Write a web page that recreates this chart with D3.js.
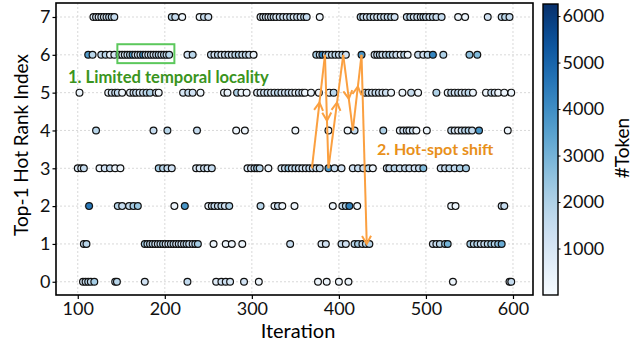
<!DOCTYPE html>
<html>
<head>
<meta charset="utf-8">
<script src="https://cdn.jsdelivr.net/npm/d3@7"></script>
<style>
  body { margin: 0; background: #fff; }
  text { font-family: Lato, "DejaVu Sans", sans-serif; }
</style>
</head>
<body>
<div id="chart"></div>
<script>
// iterations where each rank was the top-1 hot spot, and the token count of each
const rank7 = [118,121,124,127,130,133,136,139,142, 208,212,220, 240,245,250,
  310,313,316,319,322,325,328,332,336,340,344,348,352,356,360,363, 378,
  425,428,432,436,440,444,448,452,456,460,464, 478,482,486,490,494,497,500,504,508,512,518,
  537,545, 571, 587,591,596];
const tok7 = [900,1200,800,1500,1000,1400,1600,1800,1500, 1800,1500,300, 300,1500,1200,
  600,1000,1400,800,1200,1600,900,1500,1300,1100,1700,900,1400,1200,1800,1500, 300,
  1800,1500,1200,1700,1400,1000,1600,1300,1500,1800,1200, 1500,1800,1200,1400,1000,1700,1500,1300,1600,1400,1500,
  300,300, 1200, 1500,1800,1500];

const rank6 = [112,117, 127,132,137, 142, 148,151,154,157,160,163,166,169,172,175,178,181,184,187,190,193,196,199,202,205,
  226,232, 253,257,261,265,269,273,277,281,285,289,293,297,302,
  374,378,381,385,388,392,396,400,404,408, 426,
  441,444,447,450,454,458,462,466,471,475,479, 491,497,502,508,520, 550,559];
const tok6 = [3600,1800, 1500,1800,500, 1000, 800,1000,1200,1500,1800,3800,1400,1200,1600,4000,1500,1300,1700,1200,1600,1900,1400,1800,1700,1900,
  1200,1800, 1500,1200,1700,1000,1400,1600,1300,1800,2000,1500,1700,1400,500,
  2200,1500,4300,1800,2000,1600,1800,1500,2000,1200, 3800,
  1200,1500,1800,1400,1700,2200,1600,1300,400,1800,300, 1500,1200,1800,4200,2000, 2600,2800];

const rank5 = [102, 135,139,143,146,151, 160,164,167,171,175,179,183,190,193, 221,227,232,241, 268,272, 283,288,294,
  306,310,314,318,322,326,330,334,338,342,346,350,354,358,361, 368,377, 389,394,
  430,434,438,442,446,450,454,460, 473,483,491, 512, 525,529,533,537,541,545,549,554, 569,575,579,583,590,598];
const tok5 = [300, 300,1200,1500,1600,300, 500,1200,1500,1000,1300,1800,2000,1200,300, 1000,1500,1200,300, 300,400, 2000,300,300,
  500,800,1200,1500,1000,1400,1800,1300,1200,1600,1100,500,1400,1200,300, 300,300, 300,1800,
  1800,1500,1200,1600,1400,1100,1300,300, 300,1500,300, 2000, 300,1500,1200,1600,1000,1400,1800,300, 300,1500,1200,300,300,300];

const rank4 = [121, 187, 203, 237, 282, 292, 350, 388, 410, 418, 451, 470,474,478,481,485,489, 501,
  529,533,537,541,545,549,553,561, 594];
const tok4 = [1800, 1500, 1800, 1500, 300, 300, 300, 300, 300, 1600, 2000, 400,1200,1500,1000,1300,300, 300,
  1500,1200,400,1600,1800,2000,1600,3800, 300];

const rank3 = [100,104,107, 125,131,137,143,149, 193,198,203,208, 236,240,245,249,254, 295,299,303,306,309, 319,
  334,338,342,346,350,354,358,362,366,370,374,378, 388, 395,403, 416,422,428,434,439,
  455,458,464,470,476,481,487,492,497, 517,522,527,533,539,546];
const tok3 = [800,1000,1500, 300,1200,1500,300,300, 2200,1800,1500,1200, 800,1000,1400,1200,1500, 800,1200,1600,2200,1800, 300,
  900,1500,2400,1200,1800,1400,1000,1200,1600,1400,1300,1600, 3800, 1500,1200, 1200,1500,1400,1800,300,
  1200,1500,1800,1300,1600,1400,1200,1500,2800, 1200,1500,1800,1600,2000,2200];

const rank2 = [113, 146,151,159,164,169, 211, 223, 250,254,257,261,265,269,274, 310, 326,330,335, 349, 393,
  404,408,412,421, 529,534, 587,590];
const tok2 = [4500, 1800,1500,1600,2200,2400, 300, 3800, 400,1200,1600,1400,1800,1200,2000, 1800, 400,1500,300, 300, 300,
  1500,2000,4300,300, 400,300, 1200,1500];

const rank1 = [107,110, 177,180,183,186,189,192,195,198,201,204,207,210,213,216,219,222,225,228,232,235,238, 256,
  270,277,289, 344, 380,385, 403,408, 418,422,427,431,435, 508,512,516,522,525,
  551,555,559,563,567,571,575,579,583,587];
const tok1 = [1500,1800, 2200,2000,1600,1800,1500,1400,1700,2000,1200,1600,1400,1800,1200,1600,1400,1500,1800,1600,1200,2000,2200, 300,
  300,300,300, 1500, 800,1200, 1500,1200, 1800,2200,1500,2000,1800, 1200,1500,1800,2400,3000,
  2200,1800,2000,1500,1600,1800,2400,2000,2600,3200];

const rank0 = [106,109,112,115,119, 143,145, 177, 226, 259,265,270,275, 291, 308, 376,386, 400,411, 531, 596,598];
const tok0 = [1200,1500,1800,1600,2200, 1500,1800, 1200, 1600, 800,1200,1400,1000, 1200, 300, 300,300, 300,300, 300, 1200,1500];

const xTicks = [100, 200, 300, 400, 500, 600];
const yTicks = [0, 1, 2, 3, 4, 5, 6, 7];
const cbTicks = [1000, 2000, 3000, 4000, 5000, 6000];

// hot-spot shift chain (iteration, rank)
const shiftPath = [[369,3],[384,6],[388,3],[405,6],[416,4],[426,6],[432,1]];
// green box of the limited-locality run
const boxRange = [145.5, 211, 5.78, 6.28];

const width = 639, height = 343;
const mLeft = 56, mRight = 533, mTop = 3, mBottom = 295;

const svg = d3.select("#chart").append("svg")
  .attr("width", width)
  .attr("height", height);

const x = d3.scaleLinear().domain([75, 623]).range([mLeft, mRight]);
const y = d3.scaleLinear().domain([-0.35, 7.37]).range([mBottom, mTop]);
const color = d3.scaleSequential(d3.interpolateBlues).domain([0, 6260]);

// grid
svg.append("g").selectAll("line").data(xTicks).join("line")
  .attr("x1", d => x(d)).attr("x2", d => x(d))
  .attr("y1", mTop).attr("y2", mBottom)
  .attr("stroke", "#cfcfcf").attr("stroke-width", 0.8).attr("stroke-dasharray", "2,2");
svg.append("g").selectAll("line").data(yTicks).join("line")
  .attr("y1", d => y(d)).attr("y2", d => y(d))
  .attr("x1", mLeft).attr("x2", mRight)
  .attr("stroke", "#cfcfcf").attr("stroke-width", 0.8).attr("stroke-dasharray", "2,2");

// points
const rows = [[rank0, tok0], [rank1, tok1], [rank2, tok2], [rank3, tok3],
              [rank4, tok4], [rank5, tok5], [rank6, tok6], [rank7, tok7]];
const points = [];
rows.forEach(function(r, i) {
  r[0].forEach(function(it, j) { points.push({ it: it, rank: i, tok: r[1][j] }); });
});
points.sort((a, b) => a.it - b.it);

svg.append("g").selectAll("circle").data(points).join("circle")
  .attr("cx", d => x(d.it))
  .attr("cy", d => y(d.rank))
  .attr("r", 3.4)
  .attr("fill", d => color(d.tok))
  .attr("stroke", "#111")
  .attr("stroke-width", 1.2);

// axes
const xAxis = svg.append("g").attr("transform", "translate(0," + mBottom + ")")
  .call(d3.axisBottom(x).tickValues(xTicks).tickSize(4).tickPadding(3));
const yAxis = svg.append("g").attr("transform", "translate(" + mLeft + ",0)")
  .call(d3.axisLeft(y).tickValues(yTicks).tickSize(3.5).tickPadding(2));
[xAxis, yAxis].forEach(function(a) {
  a.select(".domain").remove();
  a.selectAll("line").attr("stroke", "#000").attr("stroke-width", 1.2);
  a.selectAll("text").style("font-size", "18px").attr("fill", "#111");
});

svg.append("rect")
  .attr("x", mLeft).attr("y", mTop)
  .attr("width", mRight - mLeft).attr("height", mBottom - mTop)
  .attr("fill", "none").attr("stroke", "#000").attr("stroke-width", 1.6);

svg.append("text")
  .attr("x", 298).attr("y", 338)
  .attr("text-anchor", "middle").style("font-size", "20px")
  .text("Iteration");
svg.append("text")
  .attr("transform", "translate(28,145) rotate(-90)")
  .attr("text-anchor", "middle").style("font-size", "19px")
  .text("Top-1 Hot Rank Index");

// annotation 1
svg.append("rect")
  .attr("x", x(boxRange[0])).attr("y", y(boxRange[3]))
  .attr("width", x(boxRange[1]) - x(boxRange[0]))
  .attr("height", y(boxRange[2]) - y(boxRange[3]))
  .attr("fill", "none").attr("stroke", "#5cc85c").attr("stroke-width", 2);
svg.append("text")
  .attr("x", 68).attr("y", 83)
  .style("font-size", "16.6px").style("font-weight", "bold")
  .attr("fill", "#3a9420")
  .text("1. Limited temporal locality");

// annotation 2: hot-spot shift arrows
const orange = "#fba040";
const arrows = svg.append("g");
for (let i = 0; i < shiftPath.length - 1; i++) {
  const a = shiftPath[i], b = shiftPath[i + 1];
  const x1 = x(a[0]), y1 = y(a[1]), x2 = x(b[0]), y2 = y(b[1]);
  arrows.append("line")
    .attr("x1", x1).attr("y1", y1).attr("x2", x2).attr("y2", y2)
    .attr("stroke", orange).attr("stroke-width", 2);
  const f = i === shiftPath.length - 2 ? 1 : 0.58;
  const hx = x1 + (x2 - x1) * f, hy = y1 + (y2 - y1) * f;
  const ang = Math.atan2(y2 - y1, x2 - x1) * 180 / Math.PI;
  arrows.append("path")
    .attr("d", "M-8,-4.5L0,0L-8,4.5")
    .attr("transform", "translate(" + hx + "," + hy + ") rotate(" + ang + ")")
    .attr("fill", "none").attr("stroke", orange).attr("stroke-width", 2);
}
svg.append("text")
  .attr("x", 377).attr("y", 155)
  .style("font-size", "16px").style("font-weight", "bold")
  .attr("fill", "#e8901a")
  .text("2. Hot-spot shift");

// colorbar
const cbX = 543, cbW = 15;
const cy = d3.scaleLinear().domain([0, 6260]).range([mBottom, 4]);
const defs = svg.append("defs");
const grad = defs.append("linearGradient").attr("id", "cbgrad")
  .attr("x1", 0).attr("y1", 1).attr("x2", 0).attr("y2", 0);
d3.range(0, 1.0001, 0.05).forEach(function(t) {
  grad.append("stop").attr("offset", t).attr("stop-color", d3.interpolateBlues(t));
});
svg.append("rect")
  .attr("x", cbX).attr("y", cy(6260))
  .attr("width", cbW).attr("height", cy(0) - cy(6260))
  .attr("fill", "url(#cbgrad)").attr("stroke", "#000").attr("stroke-width", 1.4);
const cAxis = svg.append("g").attr("transform", "translate(" + (cbX + cbW) + ",0)")
  .call(d3.axisRight(cy).tickValues(cbTicks).tickFormat(d3.format("d")).tickSize(2.5).tickPadding(2));
cAxis.select(".domain").remove();
cAxis.selectAll("line").attr("stroke", "#000");
cAxis.selectAll("text").style("font-size", "18px").attr("fill", "#111");
svg.append("text")
  .attr("transform", "translate(629,148) rotate(-90)")
  .attr("text-anchor", "middle").style("font-size", "19px")
  .text("#Token");
</script>
</body>
</html>
